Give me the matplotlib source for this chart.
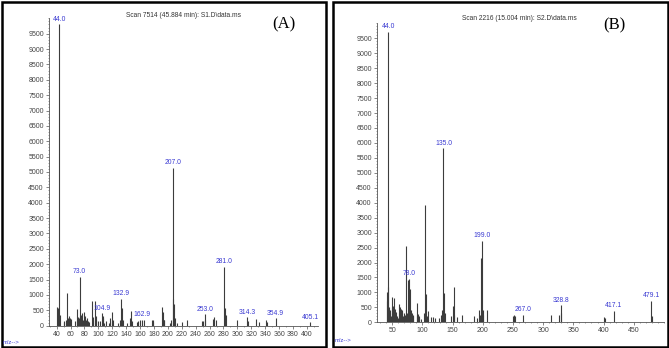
import matplotlib
matplotlib.use("Agg")
import matplotlib.pyplot as plt
from matplotlib.patches import Rectangle
from matplotlib.ticker import MultipleLocator

# ---------------- data ----------------
# Panel A: Scan 7514 (45.884 min): S1.D\data.ms
mz_a = [41, 42, 43, 44.0, 45, 50, 51, 53, 55, 56, 57, 58, 59, 60, 67, 69, 70, 71, 72,
        73.0, 74, 75, 77, 78, 79, 81, 82, 83, 85, 87, 91, 92, 93, 95, 96, 97, 99, 103,
        104.9, 106, 107, 108, 111, 115, 117, 119, 120, 121, 128, 131, 132.9, 134, 135,
        141, 145, 147, 148, 155, 157, 160, 162.9, 165, 177, 178, 179, 191, 193, 194, 195,
        203, 205, 207.0, 208, 209, 210, 213, 220, 228, 249, 251, 253.0, 254, 265, 267,
        269, 281.0, 282, 283, 299, 314.3, 315, 327, 331, 341, 342, 354.9, 405.1]
int_a = [620, 580, 300, 9800, 350, 150, 120, 180, 1080, 250, 200, 300, 250, 220, 150, 550, 180, 280, 250,
         1600, 300, 350, 420, 200, 430, 300, 200, 250, 150, 120, 790, 200, 280, 790, 300, 200, 150, 150,
         400, 250, 300, 100, 150, 100, 250, 450, 150, 200, 100, 200, 880, 580, 200,
         100, 250, 480, 150, 130, 150, 200, 200, 200, 180, 200, 120, 620, 450, 200, 180,
         100, 200, 5130, 880, 700, 250, 100, 110, 190, 150, 150, 370, 170, 230, 270,
         180, 1920, 580, 350, 170, 275, 150, 210, 130, 190, 110, 240, 110]
labels_a = [44.0, 73.0, 104.9, 132.9, 162.9, 207.0, 253.0, 281.0, 314.3, 354.9, 405.1]

# Panel B: Scan 2216 (15.004 min): S2.D\data.ms
mz_b = [41, 42, 43, 44.0, 45, 46, 47, 48, 49, 50, 51, 52, 53, 54, 55, 56, 57, 58, 60, 61, 62, 63,
        64, 65, 66, 67, 68, 69, 70, 71, 73, 74, 75, 77, 78.0, 79, 80, 81, 82, 83, 84, 85, 91,
        92, 93, 94, 95, 97, 103, 104, 105, 106, 107, 109, 110, 115, 117, 121, 128, 131, 133,
        135.0, 136, 137, 147, 151, 152, 153, 157, 165, 185, 190, 193, 195, 197, 199.0, 200,
        201, 207, 250, 251, 253, 267.0, 313, 327, 328.8, 330, 401, 403, 417.1, 479.1, 480]
int_b = [1000, 700, 1180, 9720, 500, 400, 300, 200, 500, 850, 550, 350, 800, 300, 450, 350, 250, 200, 150, 600, 300, 500,
         300, 450, 350, 400, 200, 300, 200, 250, 2560, 200, 300, 1400, 1450, 1100, 300, 400, 250, 300, 200, 250, 650,
         250, 280, 200, 150, 100, 300, 200, 3920, 950, 200, 380, 100, 180, 180, 150, 150, 250, 400,
         5820, 980, 300, 200, 550, 1170, 250, 180, 250, 200, 150, 410, 250, 2140, 2730, 400,
         250, 410, 220, 250, 200, 260, 245, 250, 567, 300, 180, 150, 377, 712, 200]
labels_b = [44.0, 78.0, 135.0, 199.0, 267.0, 328.8, 417.1, 479.1]

yticks = list(range(0, 10000, 500))

# ---------------- figure ----------------
W, H = 669, 348
fig = plt.figure(figsize=(W / 100, H / 100), dpi=100)
plt.rcParams['font.family'] = ['Liberation Sans', 'DejaVu Sans']

def px_axes(left, right, top, bottom):
    return fig.add_axes([left / W, (H - bottom) / H, (right - left) / W, (bottom - top) / H])

def box(x0, y0, x1, y1):
    fig.patches.append(Rectangle((x0 / W, (H - y1) / H), (x1 - x0) / W, (y1 - y0) / H,
                                 transform=fig.transFigure, fill=False, lw=1.8,
                                 edgecolor='black'))

box(1.5, 1.5, 325.5, 346.5)
box(332.5, 1.5, 667.5, 346.5)

label_color = '#3a3ad2'
axis_color = '#555555'

def panel(ax, mz, inten, labels, xlim, xmaj, xmin, xlast, title, tag, tagx, tagy, titlex, titley):
    ax.vlines(mz, 0, inten, colors='#3c3c3c', lw=0.8)
    ax.set_xlim(*xlim)
    ax.set_ylim(0, 10000)
    for s in ['top', 'right']:
        ax.spines[s].set_visible(False)
    for s in ['left', 'bottom']:
        ax.spines[s].set_color(axis_color)
        ax.spines[s].set_linewidth(0.6)
    ax.set_yticks(yticks)
    ax.yaxis.set_minor_locator(MultipleLocator(100))
    ax.xaxis.set_major_locator(MultipleLocator(xmaj))
    ax.xaxis.set_minor_locator(MultipleLocator(xmin))
    ax.tick_params(which='major', direction='out', length=2.2, width=0.5, color=axis_color,
                   labelsize=5.0, labelcolor='#444444', pad=1.5)
    ax.tick_params(which='minor', direction='out', length=1.0, width=0.4, color=axis_color)
    ax.set_xticks([t for t in ax.get_xticks() if xlim[0] <= t <= xlast])
    ax.patch.set_alpha(0)
    for lab in labels:
        i = mz.index(lab)
        ax.annotate(f"{lab:.1f}", (mz[i], inten[i]), xytext=(0, 1.2), textcoords='offset points',
                    ha='center', va='bottom', fontsize=4.9, color=label_color)
    fig.text(titlex / W, 1 - titley / H, title, ha='center', va='center', fontsize=4.8,
             color='#333333')
    fig.text(tagx / W, 1 - tagy / H, tag, ha='center', va='center', fontsize=12,
             family=['Liberation Serif', 'DejaVu Serif'], color='black')

axA = px_axes(49, 318, 18.3, 325.7)
panel(axA, mz_a, int_a, labels_a, (29, 416), 20, 10, 400,
      "Scan 7514 (45.884 min): S1.D\\data.ms", "(A)", 284, 24, 184, 15.3)

axB = px_axes(377, 664, 23.3, 322.3)
panel(axB, mz_b, int_b, labels_b, (25, 500), 50, 10, 450,
      "Scan 2216 (15.004 min): S2.D\\data.ms", "(B)", 614.5, 25, 519, 19)

fig.text(3 / W, 1 - 342 / H, "m/z-->", ha='left', va='center', fontsize=4.2, color=label_color)
fig.text(335 / W, 1 - 341 / H, "m/z-->", ha='left', va='center', fontsize=4.2, color=label_color)

fig.savefig("out.png", dpi=100)
